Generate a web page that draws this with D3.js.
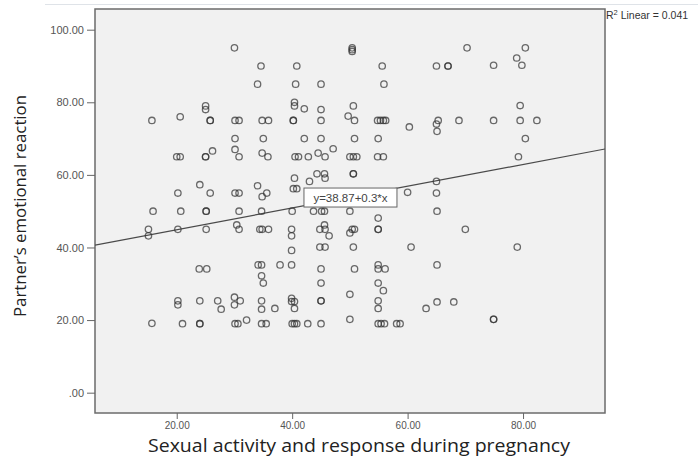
<!DOCTYPE html>
<html>
<head>
    <meta charset="utf-8">
    <title>Scatter plot with linear fit</title>
    <style>
        body {
            margin: 0;
            background-color: #fff;
        }
        svg {
            display: block;
        }
        .tick text {
            font-family: Arial, "Liberation Sans", sans-serif;
            fill: #555;
        }
        .tick line {
            stroke: #666;
        }
        .axis-title {
            font-family: "Open Sans", sans-serif;
            fill: #222;
        }
    </style>
</head>
<body>
    <div id="chart"></div>

    <script src="https://cdnjs.cloudflare.com/ajax/libs/d3/7.8.5/d3.min.js"></script>
    <script>
        // values (x = sexual activity, y = emotional reaction)
        const xValues = [
            30, 34.6, 34, 25, 25, 15.7, 20.6, 25.8, 25.8, 30.1, 30.8, 34.8, 35.9, 30.1, 35,
            20, 20.6, 25, 25, 26.2, 30.1, 30.8, 34.8, 35.8, 24, 20.2, 25.8, 30.1, 30.8, 34,
            34.8, 35.6,
            40.8, 55.6, 65, 67, 67, 50.4, 50.4, 50.4, 40.6, 45, 55.9, 40.4, 40.4, 42.1, 45,
            50.6, 40.2, 40.2, 45, 49.7, 50.8, 54.8, 55.3, 55.8, 56.2, 60.3, 65.3, 65, 65.1,
            42.1, 45, 50.8, 54.9, 40.5, 41.1, 42.8, 44.5, 45.7, 47.1, 50, 50.6, 51.2, 54.8,
            55.8, 50.6, 50.6, 44.3, 45.6, 45.7, 40.4, 43, 40.2, 40.8, 60, 65, 65,
            70.3, 80.4, 78.9, 79.8, 74.9, 79.5, 68.9, 74.9, 79.5, 82.4, 80.4, 79.2,
            15.9, 20.7, 25.1, 25.1, 30.8, 34.7, 15.1, 15.1, 20.2, 25.1, 30.4, 30.8, 34.4,
            34.8, 35.9, 23.9, 25.2, 34.1, 34.7, 34.7, 35, 20.2, 20.2, 24, 27.1, 27.7, 30, 30,
            31, 34.7, 34.7, 15.7, 21, 24, 24, 30.1, 30.6, 32.1, 34.7, 35.5,
            40, 43.7, 45.1, 45.6, 50, 65.1, 54.9, 39.9, 39.9, 44.8, 45.6, 45.7, 46.4, 50,
            50.4, 50.8, 54.9, 54.9, 39.9, 44.8, 45.7, 50.6, 60.6, 37.9, 39.9, 45, 50.8, 54.9,
            54.9, 56.1, 65.1, 45, 54.9, 55.8, 50, 37, 39.9, 39.9, 40.4, 40.4, 45, 45, 54.9,
            54.9, 63.2, 65.1, 68, 70, 79, 74.9, 74.9, 40, 40.4, 40.8, 42.7, 45, 50, 54.9,
            55.4, 56, 58.1, 58.7
        ];
        const yValues = [
            95, 90, 85, 79, 78, 75, 76, 75, 75, 75, 75, 75, 75, 70, 70,
            65, 65, 65, 65, 66.6, 67, 65, 66, 65, 57.3, 55, 55, 55, 55, 57,
            54, 55,
            90, 90, 90, 90, 90, 95, 94, 94.5, 85, 85, 85, 80, 79, 78.2, 78,
            79, 75, 75, 75, 76.2, 75, 75, 75, 75, 75, 73.2, 75, 74, 72,
            70, 70, 70, 70, 65, 65, 65, 66, 65, 67.2, 65, 65, 65, 65,
            65, 60.3, 60.3, 60.3, 60.3, 59.1, 59.1, 58.2, 56.2, 56.2, 55.2, 58.2, 55,
            95, 95, 92.2, 90.2, 90.2, 79.1, 75, 75, 75, 75, 70, 65,
            50, 50, 50, 50, 50, 50, 45, 43.2, 45, 45, 46.2, 45, 45,
            45, 45, 34.1, 34.1, 35.2, 35.2, 32.2, 30.2, 25.3, 24.2, 25.3, 25.3, 23, 26.3, 24.2,
            25.3, 25.3, 23, 19.1, 19, 19, 19, 19, 19, 20, 19, 19,
            50, 50, 50, 50, 50, 50, 48.1, 45, 43.2, 45, 46.2, 45, 43.2, 44,
            45, 45, 45, 45, 39.2, 40.1, 40.1, 40.1, 40.1, 35.2, 35.2, 34.1, 34.1, 35.2,
            34.1, 34.1, 35.2, 30.2, 30.2, 28.1, 27.1, 23.2, 26, 25.1, 25.1, 23.2, 25.3, 25.3, 25.3,
            23.2, 23.2, 25, 25, 45, 40.1, 20.2, 20.2, 19, 19, 19, 19, 19, 20.2, 19,
            19, 19, 19, 19
        ];
        const xTicks = [20, 40, 60, 80];
        const yTicks = [0, 20, 40, 60, 80, 100];
        const fitIntercept = 38.87;
        const fitSlope = 0.3;
        const fitLabel = "y=38.87+0.3*x";
        const r2Value = "0.041";
        const xTitle = "Sexual activity and response during pregnancy";
        const yTitle = "Partner\u2019s emotional reaction";

        const points = xValues.map((x, i) => ({x: x, y: yValues[i]}));

        const width = 698, height = 462;
        const plot = {left: 95, right: 605, top: 9, bottom: 413};

        const svg = d3.select("#chart")
            .append("svg")
            .attr("width", width)
            .attr("height", height);

        const x = d3.scaleLinear()
            .domain([5.84, 94.2])
            .range([plot.left, plot.right]);

        const y = d3.scaleLinear()
            .domain([-5.6, 105.7])
            .range([plot.bottom, plot.top]);

        // faint line across the top
        svg.append("line")
            .attr("x1", 45).attr("x2", width)
            .attr("y1", 4.5).attr("y2", 4.5)
            .attr("stroke", "#dfe3e8")
            .attr("stroke-width", 1);

        // plot background + frame
        svg.append("rect")
            .attr("x", plot.left)
            .attr("y", plot.top)
            .attr("width", plot.right - plot.left)
            .attr("height", plot.bottom - plot.top)
            .attr("fill", "#f1f1f1")
            .attr("stroke", "#6b6b6b")
            .attr("stroke-width", 1.5);

        const fmt = v => v === 0 ? ".00" : d3.format(".2f")(v);

        const yAxis = svg.append("g")
            .attr("transform", `translate(${plot.left},0)`)
            .call(d3.axisLeft(y).tickValues(yTicks).tickFormat(fmt).tickSize(8).tickPadding(3));
        yAxis.select(".domain").remove();
        yAxis.selectAll("text").style("font-size", "11px");

        const xAxis = svg.append("g")
            .attr("transform", `translate(0,${plot.bottom})`)
            .call(d3.axisBottom(x).tickValues(xTicks).tickFormat(fmt).tickSize(6).tickPadding(3));
        xAxis.select(".domain").remove();
        xAxis.selectAll("text").style("font-size", "10px");

        // fit line, clipped to the plot
        svg.append("clipPath")
            .attr("id", "clip")
            .append("rect")
            .attr("x", plot.left).attr("y", plot.top)
            .attr("width", plot.right - plot.left)
            .attr("height", plot.bottom - plot.top);

        const [x0, x1] = x.domain();
        svg.append("line")
            .attr("clip-path", "url(#clip)")
            .attr("x1", x(x0)).attr("y1", y(fitIntercept + fitSlope * x0))
            .attr("x2", x(x1)).attr("y2", y(fitIntercept + fitSlope * x1))
            .attr("stroke", "#4a4a4a")
            .attr("stroke-width", 1.2);

        // points
        svg.append("g")
            .selectAll("circle")
            .data(points)
            .join("circle")
            .attr("cx", d => x(d.x))
            .attr("cy", d => y(d.y))
            .attr("r", 3.2)
            .attr("fill", "none")
            .attr("stroke", "#333")
            .attr("stroke-opacity", 0.72)
            .attr("stroke-width", 1.3);

        // equation label sitting on the line
        const lx = 50.1;
        const label = svg.append("g")
            .attr("transform", `translate(${x(lx)},${y(fitIntercept + fitSlope * lx) + 0.5})`);
        label.append("rect")
            .attr("x", -46.5).attr("y", -9.5)
            .attr("width", 93).attr("height", 19)
            .attr("fill", "#fff")
            .attr("stroke", "#666")
            .attr("stroke-width", 1);
        label.append("text")
            .attr("text-anchor", "middle")
            .attr("dy", "0.36em")
            .style("font-family", "Arial, sans-serif")
            .style("font-size", "11.5px")
            .attr("fill", "#444")
            .text(fitLabel);

        // R squared note
        const r2 = svg.append("text")
            .attr("x", 606)
            .attr("y", 19)
            .style("font-family", "Arial, sans-serif")
            .style("font-size", "10.5px")
            .attr("fill", "#333");
        r2.append("tspan").text("R");
        r2.append("tspan").attr("dy", -4).style("font-size", "7.5px").text("2");
        r2.append("tspan").attr("dy", 4).text(" Linear = " + r2Value);

        // axis titles (squeezed to the width the original narrow font takes)
        svg.append("text")
            .attr("class", "axis-title")
            .attr("x", 359)
            .attr("y", 452)
            .attr("text-anchor", "middle")
            .attr("textLength", 422)
            .attr("lengthAdjust", "spacingAndGlyphs")
            .style("font-size", "19px")
            .text(xTitle);

        svg.append("text")
            .attr("class", "axis-title")
            .attr("transform", "translate(26,206) rotate(-90)")
            .attr("text-anchor", "middle")
            .attr("textLength", 222)
            .attr("lengthAdjust", "spacingAndGlyphs")
            .style("font-size", "16px")
            .text(yTitle);
    </script>
</body>
</html>
